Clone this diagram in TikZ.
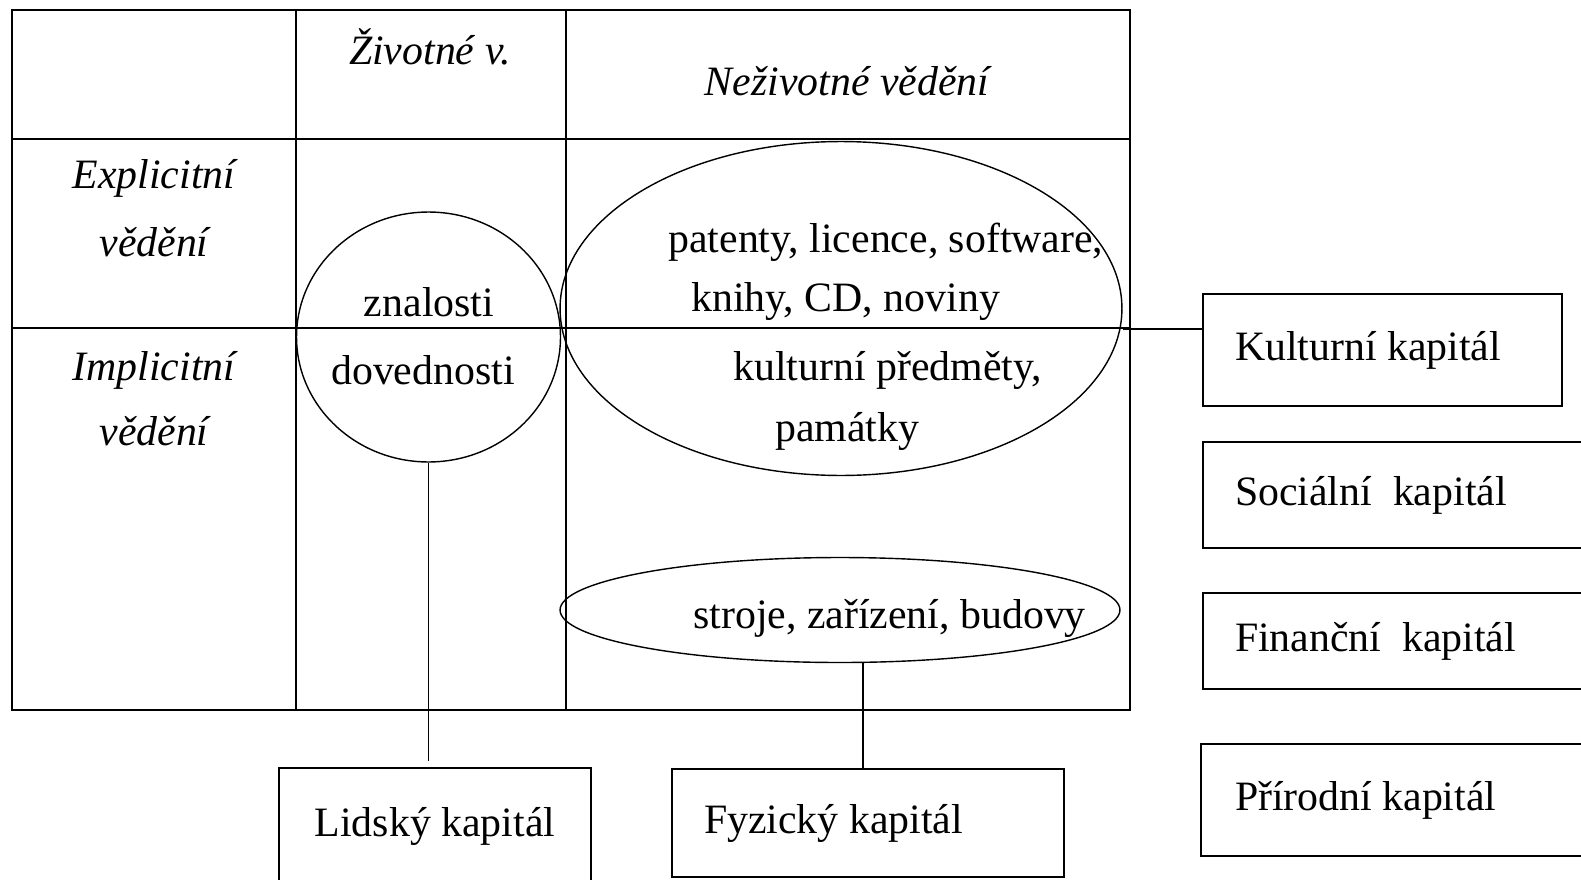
\documentclass[tikz,border=0pt]{standalone}
\usepackage{fontspec}
\setmainfont{Liberation Serif}
\usetikzlibrary{shapes.geometric, positioning}

\tikzset{
  grid/.style={line width=1.1pt},
  ring/.style={draw, ellipse, line width=0.8pt, inner sep=0pt},
  capbox/.style={draw, line width=1.1pt, inner ysep=0pt},
  celltext/.style={inner sep=0pt}
}
\newcommand{\leftcap}[2]{\makebox[#1][l]{#2}}

\begin{document}
\begin{tikzpicture}[x=0.02cm, y=-0.02cm, font=\fontsize{23.8}{28.6}\selectfont]
  \useasboundingbox (0,0) rectangle (1581,879);
  % table
  \draw[grid] (12,10) rectangle (1130,710);
  \draw[grid] (296,10) -- (296,710);
  \draw[grid] (566,10) -- (566,710);
  \draw[grid] (12,139) -- (1130,139);
  \draw[grid] (12,328) -- (1130,328);
  % headers
  \node[celltext] (ziv) at (430,47) {\itshape Životné v.};
  \node[celltext] (neziv) at (847,81) {\itshape Neživotné vědění};
  \node[celltext] (expl) at (154,178) {\itshape Explicitní};
  \node[celltext] (explv) at (154,242) {\itshape vědění};
  \node[celltext] (impl) at (154,370) {\itshape Implicitní};
  \node[celltext] (implv) at (154,431) {\itshape vědění};
  % ellipses
  \node[ring, minimum width=5.28cm, minimum height=5.0cm] (circ) at (428.5,337) {};
  \node[ring, minimum width=11.24cm, minimum height=6.68cm] (big) at (841,308.5) {};
  \node[ring, minimum width=11.2cm, minimum height=2.1cm] (small) at (840,610) {};
  \node[celltext] (znal) at (429,302) {znalosti};
  \node[celltext] (dove) at (423,370) {dovednosti};
  \node[celltext, anchor=west] (pat) at (668,242) {patenty, licence, software,};
  \node[celltext, anchor=west] (knih) at (691,302) {knihy, CD, noviny};
  \node[celltext, anchor=west] (kpre) at (733,370) {kulturní předměty,};
  \node[celltext, anchor=west] (pam) at (775,431) {památky};
  \node[celltext, anchor=west] (stro) at (693,618) {stroje, zařízení, budovy};
  % capital boxes
  \node[capbox, inner xsep=0.64cm, minimum height=2.24cm] (kult) at (1382.5,350) {\leftcap{5.9cm}{Kulturní kapitál}};
  \node[capbox, inner xsep=0.64cm, minimum height=2.12cm] (soc) at (1396.5,495) {\leftcap{6.46cm}{Sociální\ \ kapitál}};
  \node[capbox, inner xsep=0.64cm, minimum height=1.92cm] (fin) at (1396.5,641) {\leftcap{6.46cm}{Finanční\ \ kapitál}};
  \node[capbox, inner xsep=0.68cm, minimum height=2.24cm] (prir) at (1395.5,800) {\leftcap{6.42cm}{Přírodní kapitál}};
  \node[capbox, minimum width=6.24cm, minimum height=2.32cm] (lid) at (435,826) {\raisebox{0.14cm}{Lidský kapitál}};
  \node[capbox, inner xsep=0.64cm, minimum height=2.16cm] (fyz) at (868,823) {\leftcap{6.56cm}{Fyzický kapitál}};
  % connectors
  \coordinate (lidend) at (428.5,761);
  \coordinate (fyzx) at (863,0);
  \coordinate (kultin) at (1203,329);
  \draw[line width=1pt] (circ.south) -- (lidend);
  \draw[line width=1pt] (small.south -| fyzx) -- (fyz.north -| fyzx);
  \draw[line width=0.8pt] (kultin -| big.east) -- (kultin);
\end{tikzpicture}
\end{document}
